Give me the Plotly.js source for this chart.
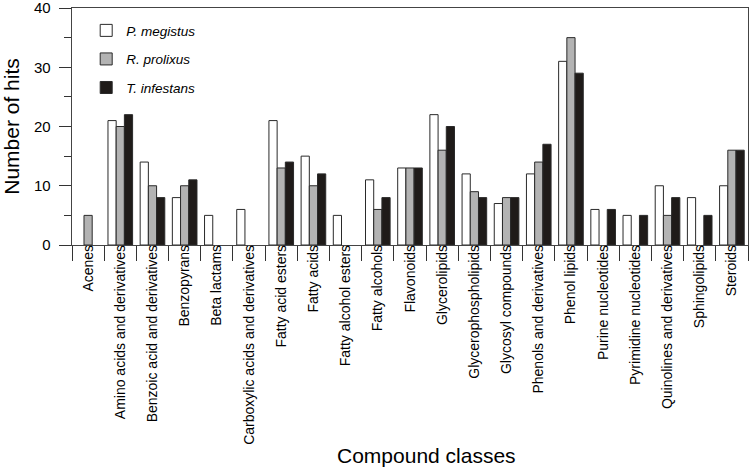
<!DOCTYPE html>
<html>
<head>
<meta charset="utf-8">
<script src="https://cdn.plot.ly/plotly-3.0.1.min.js"></script>
<style>html,body{margin:0;padding:0;background:#fff;}#chart{width:752px;height:470px;}</style>
</head>
<body>
<div id="chart"></div>
<script>
const categories = ["Acenes","Amino acids and derivatives","Benzoic acid and derivatives","Benzopyrans","Beta lactams","Carboxylic acids and derivatives","Fatty acid esters","Fatty acids","Fatty alcohol esters","Fatty alcohols","Flavonoids","Glycerolipids","Glycerophospholipids","Glycosyl compounds","Phenols and derivatives","Phenol lipids","Purine nucleotides","Pyrimidine nucleotides","Quinolines and derivatives","Sphingolipids","Steroids"];
// null = no bar drawn (no hits)
const pMegistus = [null,21,14,8,5,6,21,15,5,11,13,22,12,7,12,31,6,5,10,8,10];
const rProlixus = [5,20,10,10,null,null,13,10,null,6,13,16,9,8,14,35,null,null,5,null,16];
const tInfestans = [null,22,8,11,null,null,14,12,null,8,13,20,8,8,17,29,6,5,8,5,16];
const seriesNames = ["P. megistus","R. prolixus","T. infestans"];
const yRange = [0,40];

const fills = ["#ffffff","#b3b3b3","#1f1b19"];
const allVals = [pMegistus, rProlixus, tInfestans];
const traces = allVals.map((v,i)=>({
  type:'bar', x:categories, y:v, name:seriesNames[i], legendgroup:'g'+i,
  marker:{color:fills[i], line:{color:'#2a2a2a', width:1}}
}));

const layout = {
  width:752, height:470,
  margin:{l:72, r:4, t:8, b:225},
  paper_bgcolor:'#fff', plot_bgcolor:'#fff',
  font:{family:'Liberation Sans, Arial, sans-serif', color:'#000'},
  barmode:'group', bargap:0.235, bargroupgap:0,
  showlegend:true,
  legend:{x:0.021, y:0.97, xanchor:'left', yanchor:'top', bgcolor:'rgba(0,0,0,0)',
          font:{size:13.5, style:'italic'}, tracegroupgap:8, itemwidth:30},
  xaxis:{type:'category', tickangle:-90, tickson:'boundaries', ticks:'outside', ticklen:15,
         tickcolor:'#333', tickwidth:1, showline:true, linecolor:'#444', linewidth:1.3, mirror:true,
         showgrid:false, tickfont:{size:14}, ticklabelstandoff:-7, automargin:false},
  yaxis:{range:yRange, tickmode:'linear', tick0:0, dtick:10, ticks:'outside', ticklen:12, tickcolor:'#333',
         tickwidth:1, showline:true, linecolor:'#444', linewidth:1.3, mirror:true, showgrid:false, zeroline:false,
         tickfont:{size:15}, ticklabelstandoff:5, ticklabeloverflow:'allow',
         minor:{dtick:5, ticks:'outside', ticklen:7, tickcolor:'#333', tickwidth:1, showgrid:false},
         title:{text:'Number of hits', font:{size:21}, standoff:8}, automargin:false},
  annotations:[{text:'Compound classes', xref:'paper', yref:'paper', x:0.524, y:0, yshift:-210,
                xanchor:'center', yanchor:'middle', showarrow:false, font:{size:21}}]
};
Plotly.newPlot('chart', traces, layout, {displayModeBar:false, staticPlot:true});
</script>
</body>
</html>
